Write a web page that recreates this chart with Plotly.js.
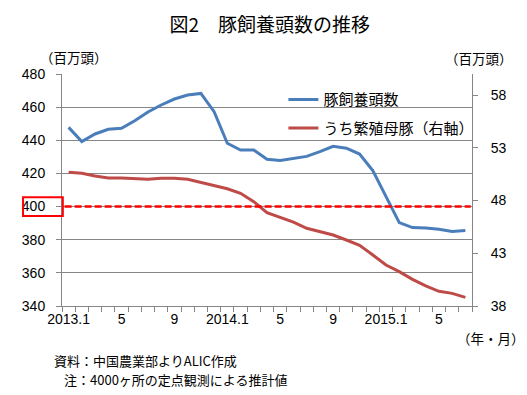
<!DOCTYPE html>
<html>
<head>
<meta charset="utf-8">
<script src="https://cdn.plot.ly/plotly-3.0.1.min.js"></script>
<style>html,body{margin:0;padding:0;background:#fff;}#chart{width:527px;height:395px;}</style>
</head>
<body>
<div id="chart"></div>
<script>
const months = ["2013.1","2013.2","2013.3","2013.4","2013.5","2013.6","2013.7","2013.8","2013.9","2013.10","2013.11","2013.12",
  "2014.1","2014.2","2014.3","2014.4","2014.5","2014.6","2014.7","2014.8","2014.9","2014.10","2014.11","2014.12",
  "2015.1","2015.2","2015.3","2015.4","2015.5","2015.6","2015.7"];
const pigs = [447.8,439.2,443.8,446.6,447.2,451.8,457.1,461.3,464.9,467.3,468.3,457.3,
  438.2,434.1,434.1,428.5,427.8,428.9,430.3,433.1,436.4,435.2,431.7,421.7,
  406.0,390.3,387.3,387.1,386.3,384.9,385.5];
const sows = [50.68,50.58,50.33,50.14,50.14,50.11,50.01,50.11,50.11,50.01,49.73,49.38,
  49.12,48.69,47.89,46.85,46.41,45.95,45.37,45.05,44.73,44.26,43.76,42.84,
  41.89,41.26,40.53,39.90,39.39,39.20,38.82];
const tickLabels = ["2013.1","5","9","2014.1","5","9","2015.1","5"];
const tickMonths = ["2013.1","2013.5","2013.9","2014.1","2014.5","2014.9","2015.1","2015.5"];
const threshold = 400;

const xIdx = months.map((m, i) => i);
const tickIdx = tickMonths.map(m => months.indexOf(m));
const jp = '"Noto Sans CJK JP", sans-serif';
const num = '"Liberation Sans", Arial, sans-serif';
const grey = '#868686';

const traces = [
  {x: xIdx, y: pigs, type: 'scatter', mode: 'lines', name: '豚飼養頭数',
   line: {color: '#4A7EBB', width: 3}, legendgroup: 'a', yaxis: 'y'},
  {x: xIdx, y: sows, type: 'scatter', mode: 'lines', name: 'うち繁殖母豚（右軸）',
   line: {color: '#BE4B48', width: 3}, legendgroup: 'b', yaxis: 'y2'}
];

const layout = {
  width: 527, height: 395,
  margin: {l: 62, r: 55, t: 74, b: 89},
  paper_bgcolor: '#fff', plot_bgcolor: '#fff',
  showlegend: true,
  legend: {x: 0.54, y: 0.96, xanchor: 'left', yanchor: 'top', font: {family: jp, size: 15, color: '#000'},
    bgcolor: 'rgba(0,0,0,0)', traceorder: 'grouped', tracegroupgap: 6},
  title: {text: '図2　豚飼養頭数の推移', font: {family: jp, size: 19, color: '#000'},
    x: 0.512, xanchor: 'center', y: 0.937, yanchor: 'middle'},
  xaxis: {range: [-0.5, months.length - 0.5], tickmode: 'array', tickvals: tickIdx, ticktext: tickLabels,
    showgrid: false, zeroline: false, showline: true, linecolor: grey, linewidth: 1,
    ticks: '', tickfont: {family: num, size: 14, color: '#000'},
    minor: {tick0: -0.5, dtick: 1, ticks: 'outside', ticklen: 5, tickcolor: grey, showgrid: false}},
  yaxis: {range: [340, 480], dtick: 20, showgrid: true, gridcolor: grey, gridwidth: 1, zeroline: false,
    showline: true, linecolor: grey, ticks: 'outside', ticklen: 5, tickcolor: grey,
    tickfont: {family: num, size: 14, color: '#000'}, ticklabelstandoff: 8},
  yaxis2: {range: [38, 60], tickvals: [38, 43, 48, 53, 58], overlaying: 'y', side: 'right', showgrid: false, zeroline: false,
    showline: true, linecolor: grey, ticks: 'outside', ticklen: 5, tickcolor: grey,
    tickfont: {family: num, size: 14, color: '#000'}, ticklabelstandoff: 10},
  shapes: [
    {type: 'line', xref: 'x', yref: 'y', x0: -0.3, x1: months.length - 0.6, y0: threshold, y1: threshold,
     line: {color: '#FF0000', width: 2.5, dash: '7px,3px'}},
    {type: 'rect', xref: 'paper', yref: 'y', x0: -0.095, x1: 0.002, y0: threshold - 5.7, y1: threshold + 5.7,
     line: {color: '#FF0000', width: 2}}
  ],
  annotations: [
    {text: '（百万頭）', xref: 'paper', yref: 'paper', x: -0.0585, y: 1.073, xanchor: 'left', yanchor: 'middle', showarrow: false,
     font: {family: jp, size: 13.5, color: '#000'}},
    {text: '（百万頭）', xref: 'paper', yref: 'paper', x: 0.93, y: 1.069, xanchor: 'left', yanchor: 'middle', showarrow: false,
     font: {family: jp, size: 13.5, color: '#000'}},
    {text: '（年・月）', xref: 'paper', yref: 'paper', x: 0.9585, y: -0.138, xanchor: 'left', yanchor: 'middle', showarrow: false,
     font: {family: jp, size: 13.5, color: '#000'}},
    {text: '資料：中国農業部よりALIC作成', xref: 'paper', yref: 'paper', x: -0.0244, y: -0.237, xanchor: 'left', yanchor: 'middle', showarrow: false,
     font: {family: jp, size: 13, color: '#000'}},
    {text: '注：4000ヶ所の定点観測による推計値', xref: 'paper', yref: 'paper', x: 0.0, y: -0.315, xanchor: 'left', yanchor: 'middle', showarrow: false,
     font: {family: jp, size: 13, color: '#000'}}
  ]
};

Plotly.newPlot('chart', traces, layout, {displayModeBar: false, staticPlot: true});
</script>
</body>
</html>
